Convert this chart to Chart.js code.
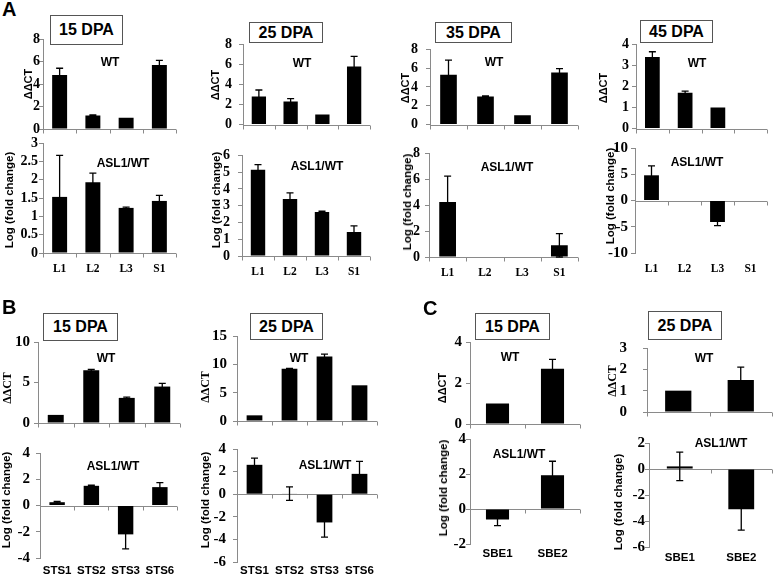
<!DOCTYPE html>
<html lang="en">
<head>
<meta charset="UTF-8">
<script src="https://cdn.jsdelivr.net/npm/chart.js"></script>
<title>Expression panels</title>
<style>
  body { margin: 0; background: #fff; }
  #fig { position: relative; width: 774px; height: 577px; overflow: hidden; font-family: Arial, "Liberation Sans", sans-serif; }
  #fig canvas { position: absolute; }
  .t { position: absolute; font-weight: bold; white-space: nowrap; color: #000; transform: translate(-50%, -50%); }
  .rot { transform: translate(-50%, -50%) rotate(-90deg); }
  .serif { font-family: "Liberation Serif", "Times New Roman", serif; }
  .box { position: absolute; border: 1.5px solid #555; box-sizing: border-box; font-weight: bold; font-size: 16px;
         display: flex; align-items: center; justify-content: center; background: #fff; }
  .letter { position: absolute; font-weight: bold; font-size: 20px; }
</style>
</head>
<body>
<div id="fig"></div>

<script>
// categories
const genesL = ['L1', 'L2', 'L3', 'S1'];
const genesSTS = ['STS1', 'STS2', 'STS3', 'STS6'];
const genesSBE = ['SBE1', 'SBE2'];

// panel A - WT (ΔΔCT) and ASL1/WT (log fold change), values + error
const a15Wt = [4.8, 1.2, 1.0, 5.7];
const a15WtErr = [0.6, 0.05, 0, 0.4];
const a15As = [1.53, 1.93, 1.23, 1.42];
const a15AsErr = [1.13, 0.25, 0.02, 0.15];

const a25Wt = [2.8, 2.3, 1.0, 5.8];
const a25WtErr = [0.65, 0.3, 0, 1.0];
const a25As = [5.15, 3.4, 2.62, 1.43];
const a25AsErr = [0.3, 0.37, 0.05, 0.37];

const a35Wt = [5.3, 3.0, 1.0, 5.55];
const a35WtErr = [1.55, 0.06, 0, 0.4];
const a35As = [4.25, 0, 0, 0.9];
const a35AsErr = [2.0, 0, 0, 0.9];

const a45Wt = [3.4, 1.7, 1.0, 0];
const a45WtErr = [0.25, 0.08, 0, 0];
const a45As = [4.8, 0, -4.1, 0];
const a45AsErr = [1.8, 0, 0.7, 0];

// panel B
const b15Wt = [1.0, 6.5, 3.1, 4.5];
const b15WtErr = [0, 0.12, 0.1, 0.4];
const b15As = [0.25, 1.5, -2.2, 1.4];
const b15AsErr = [0.06, 0.05, 1.1, 0.35];

const b25Wt = [1.0, 9.2, 11.4, 6.3];
const b25WtErr = [0, 0.1, 0.4, 0];
const b25As = [2.6, 0.05, -2.5, 1.8];
const b25AsErr = [0.6, 0.6, 1.3, 1.1];

// panel C
const c15Wt = [1.0, 2.7];
const c15WtErr = [0, 0.45];
const c15As = [-0.6, 1.93];
const c15AsErr = [0.35, 0.8];

const c25Wt = [1.0, 1.5];
const c25WtErr = [0, 0.6];
const c25As = [0.2, -3.1];
const c25AsErr = [1.1, 1.6];

const serif = '"Liberation Serif", "Times New Roman", serif';
const sans = 'Arial, "Liberation Sans", sans-serif';
const fig = document.getElementById('fig');

// zero line with category tick marks, and error bars
const axisAndErr = {
  id: 'axisAndErr',
  beforeDatasetsDraw(chart) {
    const ctx = chart.ctx, area = chart.chartArea;
    const y0 = Math.round(chart.scales.y.getPixelForValue(0)) + 0.5;
    const n = chart.data.labels.length;
    ctx.save();
    ctx.strokeStyle = '#8a8a8a';
    ctx.lineWidth = 1;
    ctx.beginPath();
    ctx.moveTo(area.left, y0);
    ctx.lineTo(area.right, y0);
    for (let i = 0; i <= n; i++) {
      const x = Math.round(area.left + (area.right - area.left) * i / n) + 0.5;
      ctx.moveTo(x, y0);
      ctx.lineTo(x, y0 + 4);
    }
    ctx.stroke();
    ctx.restore();
  },
  afterDatasetsDraw(chart) {
    const ctx = chart.ctx, ys = chart.scales.y;
    const ds = chart.data.datasets[0];
    ctx.save();
    ctx.strokeStyle = '#000';
    ctx.lineWidth = 1.3;
    chart.getDatasetMeta(0).data.forEach((bar, i) => {
      const e = ds.errs[i];
      if (!e) return;
      const v = ds.data[i];
      const yt = ys.getPixelForValue(v + e), yb = ys.getPixelForValue(v - e);
      ctx.beginPath();
      ctx.moveTo(bar.x, yt); ctx.lineTo(bar.x, yb);
      ctx.moveTo(bar.x - 3.5, yt); ctx.lineTo(bar.x + 3.5, yt);
      ctx.moveTo(bar.x - 3.5, yb); ctx.lineTo(bar.x + 3.5, yb);
      ctx.stroke();
    });
    ctx.restore();
  }
};

function makeChart(c) {
  const padL = 40, padT = 10, padR = 4;
  const left = c.ax - padL, top = c.top - padT;
  const w = c.end - left + padR;
  const h = (c.labelY ? c.labelY + 10 : c.bot + 8) - top;
  const xH = h - (c.bot - top);
  const lblSize = 11.5;

  const cv = document.createElement('canvas');
  cv.width = w;
  cv.height = h;
  cv.style.left = left + 'px';
  cv.style.top = top + 'px';
  fig.appendChild(cv);

  new Chart(cv, {
    type: 'bar',
    data: {
      labels: c.labels,
      datasets: [{ data: c.vals, errs: c.errs, backgroundColor: '#000', barPercentage: c.barPct || 0.45, categoryPercentage: 1 }]
    },
    options: {
      responsive: false,
      animation: false,
      devicePixelRatio: 1,
      layout: { padding: { top: padT, right: padR, left: 0, bottom: 0 } },
      plugins: { legend: { display: false }, tooltip: { enabled: false } },
      scales: {
        x: {
          grid: { display: false, drawTicks: false },
          border: { display: false },
          ticks: {
            display: !!c.labelY,
            padding: c.labelY ? c.labelY - c.bot - lblSize / 2 : 0,
            color: '#000', maxRotation: 0, autoSkip: false,
            font: { family: c.lblFont || serif, weight: 'bold', size: lblSize }
          },
          afterFit: s => { s.height = xH; }
        },
        y: {
          min: c.min, max: c.max,
          ticks: {
            stepSize: c.step, autoSkip: false, color: '#000', padding: c.gap - 4,
            font: { family: serif, weight: 'bold', size: c.tickSize || 14 },
            callback: v => String(v)
          },
          grid: { drawOnChartArea: false, tickLength: 4, color: '#8a8a8a' },
          border: { color: '#8a8a8a' },
          afterFit: s => { s.width = padL; }
        }
      }
    },
    plugins: [axisAndErr]
  });
}

const charts = [
  { labels: genesL, vals: a15Wt, errs: a15WtErr, min: 0, max: 8, step: 2, ax: 43, top: 39, bot: 129, end: 176, gap: 3 },
  { labels: genesL, vals: a15As, errs: a15AsErr, min: 0, max: 3, step: 0.5, ax: 43, top: 143, bot: 253, end: 176, labelY: 268, gap: 5 },
  { labels: genesL, vals: a25Wt, errs: a25WtErr, min: 0, max: 8, step: 2, ax: 243, top: 39, bot: 132, end: 370, gap: 11 },
  { labels: genesL, vals: a25As, errs: a25AsErr, min: 0, max: 6, step: 1, ax: 242, top: 149, bot: 256, end: 370, labelY: 271, gap: 12 },
  { labels: genesL, vals: a35Wt, errs: a35WtErr, min: 0, max: 8, step: 2, ax: 430, top: 43, bot: 133, end: 578, gap: 12 },
  { labels: genesL, vals: a35As, errs: a35AsErr, min: 0, max: 8, step: 2, ax: 429, top: 150, bot: 257, end: 578, labelY: 272, gap: 9 },
  { labels: genesL, vals: a45Wt, errs: a45WtErr, min: 0, max: 4, step: 1, ax: 636, top: 43, bot: 132, end: 767, gap: 7 },
  { labels: genesL, vals: a45As, errs: a45AsErr, min: -10, max: 10, step: 5, ax: 635, top: 146, bot: 253, end: 767, labelY: 268, gap: 7, tickSize: 15 },
  { labels: genesSTS, vals: b15Wt, errs: b15WtErr, min: 0, max: 10, step: 5, ax: 38, top: 339, bot: 428, end: 180, gap: 8, tickSize: 15 },
  { labels: genesSTS, vals: b15As, errs: b15AsErr, min: -4, max: 4, step: 2, ax: 40, top: 448, bot: 558, end: 177, labelY: 570, lblFont: sans, gap: 10, tickSize: 15 },
  { labels: genesSTS, vals: b25Wt, errs: b25WtErr, min: 0, max: 15, step: 5, ax: 237, top: 331, bot: 428, end: 377, gap: 10, tickSize: 15 },
  { labels: genesSTS, vals: b25As, errs: b25AsErr, min: -6, max: 4, step: 2, ax: 237, top: 443, bot: 562, end: 377, labelY: 570, lblFont: sans, gap: 11, tickSize: 15 },
  { labels: genesSBE, vals: c15Wt, errs: c15WtErr, min: 0, max: 4, step: 2, ax: 470, top: 339, bot: 429, end: 580, barPct: 0.42, gap: 8, tickSize: 15 },
  { labels: genesSBE, vals: c15As, errs: c15AsErr, min: -2, max: 4, step: 2, ax: 470, top: 439, bot: 544, end: 580, labelY: 553, lblFont: sans, barPct: 0.42, gap: 4, tickSize: 15 },
  { labels: genesSBE, vals: c25Wt, errs: c25WtErr, min: 0, max: 3, step: 1, ax: 647, top: 333, bot: 429, end: 772, barPct: 0.42, gap: 20, tickSize: 15 },
  { labels: genesSBE, vals: c25As, errs: c25AsErr, min: -6, max: 2, step: 2, ax: 649, top: 443, bot: 547, end: 772, labelY: 557, lblFont: sans, barPct: 0.42, gap: 4, tickSize: 15 }
];
charts.forEach(makeChart);

// text: panel letters, title boxes, series notes, axis titles
function addText(str, x, y, size, cls) {
  const d = document.createElement('div');
  d.className = 't ' + (cls || '');
  d.style.left = x + 'px';
  d.style.top = y + 'px';
  d.style.fontSize = size + 'px';
  d.textContent = str;
  fig.appendChild(d);
}
function addBox(str, x, y, w, h) {
  const d = document.createElement('div');
  d.className = 'box';
  Object.assign(d.style, { left: x + 'px', top: y + 'px', width: w + 'px', height: h + 'px' });
  d.textContent = str;
  fig.appendChild(d);
}
function addLetter(str, x, y) {
  const d = document.createElement('div');
  d.className = 'letter';
  d.style.left = x + 'px';
  d.style.top = y + 'px';
  d.textContent = str;
  fig.appendChild(d);
}

addLetter('A', 2, -2);
addLetter('B', 2, 296);
addLetter('C', 423, 297);

addBox('15 DPA', 50, 15, 73, 30);
addBox('25 DPA', 249, 22, 74, 21);
addBox('35 DPA', 435, 22, 77, 21);
addBox('45 DPA', 640, 20, 73, 23);
addBox('15 DPA', 43, 313, 75, 28);
addBox('25 DPA', 250, 313, 73, 27);
addBox('15 DPA', 475, 313, 75, 27);
addBox('25 DPA', 648, 311, 74, 29);

[[110, 62], [302, 63], [494, 62], [697, 63], [106, 358], [299, 358], [510, 357], [704, 358]]
  .forEach(p => addText('WT', p[0], p[1], 12));
[[123, 163], [317, 166], [507, 167], [697, 162], [113, 466], [325, 465], [519, 454], [721, 443]]
  .forEach(p => addText('ASL1/WT', p[0], p[1], 12));

[[28, 84], [215, 85], [405, 88], [603, 88]].forEach(p => addText('ΔΔCT', p[0], p[1], 11, 'rot'));
addText('ΔΔCT', 7, 388, 12, 'rot serif');
addText('ΔΔCT', 205, 387, 12, 'rot serif');
addText('ΔΔCT', 442, 388, 11, 'rot');
addText('ΔΔCT', 612, 381, 12, 'rot serif');

[[9, 200], [216, 200], [407, 202], [610, 196], [6, 500], [205, 500], [443, 488], [618, 502]]
  .forEach(p => addText('Log (fold change)', p[0], p[1], 11.5, 'rot'));
</script>
</body>
</html>
